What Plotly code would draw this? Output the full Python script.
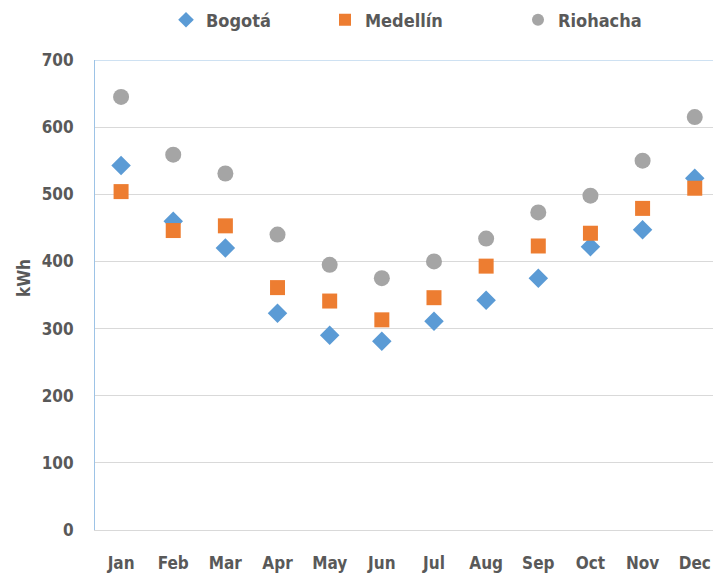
import plotly.graph_objects as go

months = ["Jan", "Feb", "Mar", "Apr", "May", "Jun", "Jul", "Aug", "Sep", "Oct", "Nov", "Dec"]
bogota = [543, 460, 420, 323, 290, 281, 311, 342, 375, 422, 447, 524]
medellin = [504, 446, 453, 361, 341, 313, 346, 393, 423, 442, 479, 509]
riohacha = [645, 559, 531, 440, 395, 375, 400, 434, 473, 498, 550, 615]
y_ticks = [0, 100, 200, 300, 400, 500, 600, 700]

TXT = "#595959"
FONT = "DejaVu Sans Condensed, Liberation Sans Narrow, sans-serif"
FS = 17

fig = go.Figure()
fig.add_trace(go.Scatter(x=months, y=bogota, mode="markers", name="Bogotá",
                         marker=dict(symbol="diamond", size=15, color="#5B9BD5"),
                         legend="legend"))
fig.add_trace(go.Scatter(x=months, y=medellin, mode="markers", name="Medellín",
                         marker=dict(symbol="square", size=15, color="#ED7D31"),
                         legend="legend2"))
fig.add_trace(go.Scatter(x=months, y=riohacha, mode="markers", name="Riohacha",
                         marker=dict(symbol="circle", size=16, color="#A5A5A5"),
                         legend="legend3"))

def leg(xpix):
    return dict(orientation="h", xref="container", yref="container",
                x=xpix / 713, y=1 - 20 / 576, xanchor="left", yanchor="middle",
                font=dict(family=FONT, size=18, color=TXT, weight="bold"),
                bgcolor="rgba(0,0,0,0)", itemwidth=30, itemsizing="constant")

fig.update_layout(
    width=713, height=576,
    showlegend=True,
    margin=dict(l=95, r=0, t=60, b=46, autoexpand=False),
    paper_bgcolor="white", plot_bgcolor="white",
    font=dict(family=FONT, size=FS, color=TXT),
    legend=leg(166),
    legend2=leg(325),
    legend3=leg(518),
    xaxis=dict(type="category", range=[-0.5, 11.35], showgrid=False, automargin=False,
               showline=True, linecolor="#D9D9D9", linewidth=1,
               ticks="", ticklabelstandoff=18,
               tickfont=dict(family=FONT, size=FS, color=TXT, weight="bold")),
    yaxis=dict(range=[0, 700], tickvals=y_ticks, showgrid=True, gridcolor="#D9D9D9",
               gridwidth=1, zeroline=False, showline=True, linecolor="#9DC3E6",
               linewidth=1, ticks="", ticklabelstandoff=17, automargin=False,
               tickfont=dict(family=FONT, size=FS, color=TXT, weight="bold")),
    shapes=[dict(type="line", xref="paper", yref="y", x0=0, x1=1, y0=700, y1=700,
                 line=dict(color="#9DC3E6", width=1))],
    annotations=[dict(text="<b>kWh</b>", textangle=-90, xref="paper", yref="paper",
                      x=-0.115, xanchor="center", y=(530 - 278) / 470, yanchor="middle",
                      showarrow=False, font=dict(family=FONT, size=FS, color=TXT))],
)

fig.write_html("out.html", config={"displayModeBar": False},
               post_script="document.body.style.margin='0px';")
